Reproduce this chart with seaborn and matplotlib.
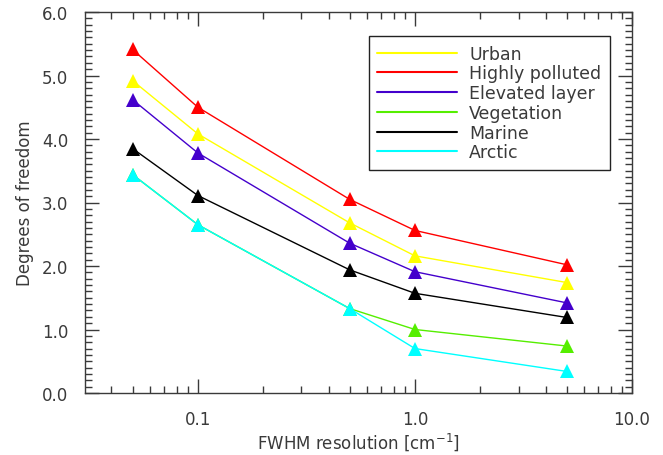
import matplotlib
matplotlib.use("Agg")
import matplotlib.pyplot as plt
import matplotlib.ticker as mticker
from matplotlib.lines import Line2D
import seaborn as sns
import pandas as pd

# ---- data ----
resolution = [0.05, 0.1, 0.5, 1.0, 5.0]
scenarios = ["Urban", "Highly polluted", "Elevated layer", "Vegetation", "Marine", "Arctic"]
urban = [4.92, 4.08, 2.68, 2.16, 1.74]
highly_polluted = [5.41, 4.50, 3.05, 2.56, 2.02]
elevated_layer = [4.62, 3.78, 2.36, 1.91, 1.42]
vegetation = [3.44, 2.65, 1.33, 1.00, 0.74]
marine = [3.85, 3.11, 1.94, 1.57, 1.19]
arctic = [3.44, 2.65, 1.33, 0.70, 0.34]
colors = ["#FFFF00", "#FF0000", "#4400CC", "#55EE00", "#000000", "#00FFFF"]
x_ticks = [0.1, 1.0, 10.0]
x_tick_labels = ["0.1", "1.0", "10.0"]
y_ticks = [0, 1, 2, 3, 4, 5, 6]
y_tick_labels = ["0.0", "1.0", "2.0", "3.0", "4.0", "5.0", "6.0"]

series = [urban, highly_polluted, elevated_layer, vegetation, marine, arctic]
rows = []
for name, vals in zip(scenarios, series):
    for xv, yv in zip(resolution, vals):
        rows.append({"scenario": name, "res": xv, "dof": yv})
df = pd.DataFrame(rows)

sns.set_style("ticks")
plt.rcParams["font.family"] = ["DejaVu Sans"]
txt = "#3a3a3a"

fig = plt.figure(figsize=(6.63, 4.56), dpi=100)
ax = fig.add_axes([85 / 663, 1 - 394 / 456, (632 - 85) / 663, (394 - 13) / 456])

palette = dict(zip(scenarios, colors))
sns.lineplot(data=df, x="res", y="dof", hue="scenario", hue_order=scenarios,
             palette=palette, marker="^", markersize=10, markeredgewidth=0,
             linewidth=1.0, legend=False, ax=ax, sort=True)

ax.set_xscale("log")
ax.set_xlim(0.0302, 10.0)
ax.set_ylim(0, 6)
ax.set_xticks(x_ticks)
ax.set_xticklabels(x_tick_labels)
ax.xaxis.set_minor_locator(mticker.LogLocator(base=10, subs=range(2, 10), numticks=20))
ax.xaxis.set_minor_formatter(mticker.NullFormatter())
ax.set_yticks(y_ticks)
ax.set_yticklabels(y_tick_labels)
ax.yaxis.set_minor_locator(mticker.MultipleLocator(0.1))

ax.tick_params(which="both", direction="in", top=True, right=True, color=txt,
               labelcolor=txt, labelsize=12, width=1)
ax.tick_params(which="major", length=10)
ax.tick_params(axis="x", which="major", pad=12)
ax.tick_params(axis="y", which="major", pad=12)
ax.tick_params(which="minor", length=5)
for s in ax.spines.values():
    s.set_color(txt)
    s.set_linewidth(1)

ax.set_xlabel("FWHM resolution [cm$^{-1}$]", fontsize=12, color=txt, labelpad=2)
ax.set_ylabel("Degrees of freedom", fontsize=12, color=txt, labelpad=6)

handles = [Line2D([0], [0], color=c, lw=1.5) for c in colors]
leg = ax.legend(handles, scenarios, loc="upper right",
                bbox_to_anchor=((610 - 85) / 547, (394 - 37) / 381),
                frameon=True, fancybox=False, framealpha=1, edgecolor="#222222",
                fontsize=12.5, handlelength=4.6, handletextpad=0.7,
                labelspacing=0.1, borderpad=0.5, borderaxespad=0)
leg.get_frame().set_linewidth(1)
for t in leg.get_texts():
    t.set_color(txt)

fig.savefig("out.png", dpi=100)
